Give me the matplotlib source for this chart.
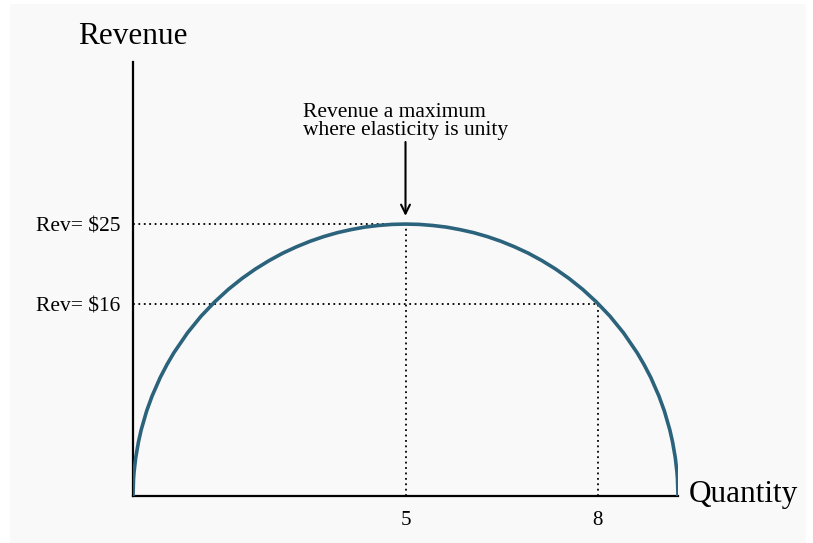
import matplotlib.pyplot as plt
from matplotlib.patches import Rectangle

# revenue curve (quantity, revenue)
quantity = [0, 0.01, 0.02, 0.05, 0.1, 0.15, 0.25, 0.35, 0.5, 0.625, 0.75, 1, 1.25, 1.5, 1.75,
            2, 2.25, 2.5, 2.75, 3, 3.25, 3.5, 3.75, 4, 4.25, 4.5, 4.75, 5,
            5.25, 5.5, 5.75, 6, 6.25, 6.5, 6.75, 7, 7.25, 7.5, 7.75, 8, 8.25, 8.5, 8.75,
            9, 9.25, 9.375, 9.5, 9.65, 9.75, 9.85, 9.9, 9.95, 9.98, 9.99, 10]
revenue = [0, 1.58, 2.23, 3.53, 4.97, 6.08, 7.81, 9.19, 10.90, 12.10, 13.17, 15.0, 16.54, 17.85, 19.00,
           20.0, 20.88, 21.65, 22.33, 22.91, 23.42, 23.85, 24.21, 24.49, 24.72, 24.87, 24.97, 25.0,
           24.97, 24.87, 24.72, 24.49, 24.21, 23.85, 23.42, 22.91, 22.33, 21.65, 20.88, 20.0, 19.00, 17.85, 16.54,
           15.0, 13.17, 12.10, 10.90, 9.19, 7.81, 6.08, 4.97, 3.53, 2.23, 1.58, 0]

# marked points on the curve
mark_q = [5, 8.53]
mark_rev = [25, 17.65]
q_labels = ["5", "8"]
rev_labels = ["Rev= $25", "Rev= $16"]

plt.rcParams['font.family'] = ['Liberation Serif', 'DejaVu Serif']

fig = plt.figure(figsize=(8.13, 5.43), dpi=100)
fig.patch.set_facecolor('white')
fig.patches.append(Rectangle((10 / 813, 0), 796 / 813, 539 / 543, transform=fig.transFigure,
                             facecolor='#f9f9f9', edgecolor='none', zorder=-10))

ax = fig.add_axes([133 / 813, 47 / 543, 545 / 813, 434 / 543])
ax.set_facecolor('none')
ax.set_xlim(0, 10)
ax.set_ylim(0, 39.9)

for s in ['top', 'right']:
    ax.spines[s].set_visible(False)
for s in ['left', 'bottom']:
    ax.spines[s].set_linewidth(1.6)
    ax.spines[s].set_color('black')

ax.plot(quantity, revenue, color='#2c637c', lw=2.6, solid_capstyle='butt',
        solid_joinstyle='round', zorder=3)

# guide lines
dots = (0, (1, 2))
for q, r in zip(mark_q, mark_rev):
    ax.plot([0, q], [r, r], color='black', lw=1.3, ls=dots, zorder=2)
    ax.plot([q, q], [0, r], color='black', lw=1.3, ls=dots, zorder=2)

ax.set_xticks(mark_q)
ax.set_xticklabels(q_labels)
ax.set_yticks(mark_rev)
ax.set_yticklabels(rev_labels)
ax.tick_params(axis='x', length=0, pad=11, labelsize=15)
ax.tick_params(axis='y', length=0, pad=9, labelsize=15.5)

ax.text(0, 41.6, "Revenue", ha='center', va='baseline', fontsize=22.5, clip_on=False)
ax.text(10.2, 0.15, "Quantity", ha='left', va='center', fontsize=22.5, clip_on=False)

ax.annotate("", xy=(mark_q[0], 25.5), xytext=(mark_q[0], 32.8),
            arrowprops=dict(arrowstyle='->', color='black', lw=1.5, mutation_scale=16))
ax.text(3.12, 33.18, "Revenue a maximum\nwhere elasticity is unity", ha='left', va='baseline',
        fontsize=15.5, linespacing=0.93)

fig.savefig('out.png', dpi=100)
